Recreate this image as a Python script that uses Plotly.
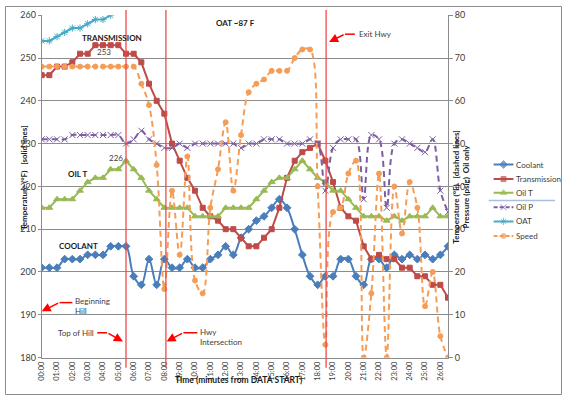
import plotly.graph_objects as go

times = ["00:00","00:30","01:00","01:30","02:00","02:30","03:00","03:30","04:00","04:30",
         "05:00","05:30","06:00","06:30","07:00","07:30","08:00","08:30","09:00","09:30",
         "10:00","10:30","11:00","11:30","12:00","12:30","13:00","13:30","14:00","14:30",
         "15:00","15:30","16:00","16:30","17:00","17:30","18:00","18:30","19:00","19:30",
         "20:00","20:30","21:00","21:30","22:00","22:30","23:00","23:30","24:00","24:30",
         "25:00","25:30","26:00","26:30"]
tick_labels = ["00:00","01:00","02:00","03:00","04:00","05:00","06:00","07:00","08:00","09:00",
               "10:00","11:00","12:00","13:00","14:00","15:00","16:00","17:00","18:00","19:00",
               "20:00","21:00","22:00","23:00","24:00","25:00","26:00"]

coolant = [201,201,201,203,203,203,204,204,204,206,206,206,199,197,203,197,203,201,201,203,
           201,201,203,204,206,204,208,210,212,213,215,217,215,210,204,199,197,199,199,203,
           203,199,197,203,203,201,204,203,204,203,204,203,204,206]
transmission = [246,246,248,248,249,251,251,253,253,253,253,251,251,249,244,240,237,230,226,222,
                219,215,213,212,210,210,208,206,206,208,210,215,222,226,228,229,230,226,221,215,
                213,212,206,203,204,203,203,201,201,199,199,197,197,194]
oil_t = [215,215,217,217,217,219,221,222,222,224,224,226,224,222,219,217,215,215,215,215,
         213,213,213,213,215,215,215,215,217,219,221,222,222,224,226,224,222,221,219,219,
         217,215,213,213,213,212,213,212,213,213,213,215,213,213]
oil_p = [51,51,51,51,52,52,52,52,52,52,52,50,51,53,51,50,49,49,50,49,
         50,50,50,50,50,50,49,50,50,51,51,51,50,50,50,51,50,39,49,51,
         51,51,37,52,51,35,50,51,50,49,48,51,39,34]
oat = [74,74,75,76,77,77,78,79,79,80] + [None]*44
speed = [68,68,68,68,68,68,68,68,68,68,68,68,68,64,59,45,16,39,24,47,
         18,15,35,44,55,39,52,62,64,65,67,67,67,70,72,72,40,3,34,35,
         43,46,0,15,43,0,40,29,41,35,12,20,5,0]

series_names = ["Coolant", "Transmission", "Oil T", "Oil P", "OAT", "Speed"]
event_idx = [11, 16.2, 37.1]

W, H = 562, 400
X0, X1, Y0, Y1 = 37, 447, 9.5, 361.5   # plot area in pixels

def px(x):
    return x / W

def py(y):
    return (H - y) / H

font_family = "Lato, 'Liberation Sans', Arial, sans-serif"
txt_col = "#404040"
dark = "#1a1a1a"
grid_col = "#8c8c8c"
red = "#FF0000"

styles = {
    "Coolant":      dict(color="#4A7EBB", symbol="diamond", axis="y", dash=None, shape="spline", size=6),
    "Transmission": dict(color="#BE4B48", symbol="square", axis="y", dash=None, shape="linear", size=5),
    "Oil T":        dict(color="#98B954", symbol="triangle-up", axis="y", dash=None, shape="linear", size=6),
    "Oil P":        dict(color="#7D5FA0", symbol="x-thin-open", axis="y2", dash="6px,4px", shape="spline", size=6),
    "OAT":          dict(color="#46AAC5", symbol="asterisk-open", axis="y2", dash=None, shape="linear", size=6),
    "Speed":        dict(color="#F59D56", symbol="circle", axis="y2", dash="6px,4px", shape="spline", size=5),
}
values = {"Coolant": coolant, "Transmission": transmission, "Oil T": oil_t,
          "Oil P": oil_p, "OAT": oat, "Speed": speed}

fig = go.Figure()
for name in series_names:
    s = styles[name]
    fig.add_trace(go.Scatter(
        x=times, y=values[name], name=name, yaxis=s["axis"], mode="lines+markers",
        line=dict(color=s["color"], width=2, dash=s["dash"], shape=s["shape"], smoothing=1),
        marker=dict(symbol=s["symbol"], size=s["size"], color=s["color"],
                    line=dict(color=s["color"], width=1)),
        connectgaps=False, showlegend=False))

# manual legend (own small axes in the right margin)
legend_y = [163, 178, 192, 207, 221.5, 236.5]
for name, ly in zip(series_names, legend_y):
    s = styles[name]
    fig.add_trace(go.Scatter(
        x=[493, 503, 513], y=[ly, ly, ly], xaxis="x3", yaxis="y3", mode="lines+markers",
        line=dict(color=s["color"], width=2, dash="4px,2px" if s["dash"] else None),
        marker=dict(symbol=s["symbol"], size=[0, s["size"], 0], color=s["color"],
                    line=dict(color=s["color"], width=1)),
        showlegend=False, hoverinfo="skip"))

shapes = []
for xi in event_idx:
    shapes.append(dict(type="line", xref="x", yref="paper", x0=xi, x1=xi,
                       y0=py(372), y1=py(4), line=dict(color="rgba(240,70,70,0.85)", width=1.5)))

segs = [((68, 305), (55, 305)), ((93, 336), (103, 336)),
        ((194, 336), (180, 336)), ((353, 29), (343, 29))]
for (x0, y0), (x1, y1) in segs:
    shapes.append(dict(type="line", xref="paper", yref="paper",
                       x0=px(x0), y0=py(y0), x1=px(x1), y1=py(y1),
                       line=dict(color=red, width=1.5)))
shapes.append(dict(type="line", xref="paper", yref="paper", x0=px(488), x1=px(555),
                   y0=py(200), y1=py(200), line=dict(color="#A7C0DE", width=1.5)))
shapes.append(dict(type="rect", xref="paper", yref="paper", x0=px(0.5), x1=px(561.5),
                   y0=py(399.5), y1=py(0.5), line=dict(color="#8c8c8c", width=1)))

ann = []
arrows = [((55, 305), (37, 314)), ((103, 336), (119, 345)),
          ((180, 336), (163, 345)), ((343, 29), (327, 37))]
for (tx, ty), (hx, hy) in arrows:
    ann.append(dict(xref="paper", yref="paper", x=px(hx), y=py(hy), ax=tx - hx, ay=ty - hy,
                    text="", showarrow=True, arrowhead=2, arrowsize=1.2, arrowwidth=1.5,
                    arrowcolor=red))

def label(text, x, y, size=8.5, bold=False, anchor="left", color=txt_col, yanchor="middle"):
    ann.append(dict(xref="paper", yref="paper", x=px(x), y=py(y),
                    text=f"<b>{text}</b>" if bold else text, align="left",
                    showarrow=False, xanchor=anchor, yanchor=yanchor,
                    font=dict(size=size, color=color, family=font_family)))

label("Beginning<br>Hill", 69, 308, size=8)
label("Top of Hill", 51, 336, size=8)
label("Hwy<br>Intersection", 195, 340.5, size=8)
label("Exit Hwy", 355, 29, size=8)
label("TRANSMISSION", 108, 33, size=8, bold=True, anchor="center", color=dark)
label("253", 100, 47, size=8, anchor="center")
label("226", 112, 156, size=8, anchor="center")
label("OIL T", 73, 173, size=8, bold=True, anchor="center", color=dark)
label("COOLANT", 74, 247, size=8, bold=True, anchor="center", color=dark)
label("OAT ~87 F", 233, 17, size=8, bold=True, anchor="center", color=dark)
for name, ly in zip(series_names, legend_y):
    label(name, 514, ly, size=8)

ann.append(dict(xref="paper", yref="paper", x=px(12), y=py(176), textangle=-90,
                text="<b>Temperature (°F)   [solid lines]</b>", showarrow=False,
                font=dict(size=8, color=dark, family=font_family)))
ann.append(dict(xref="paper", yref="paper", x=px(472), y=py(186), textangle=-90,
                text="<b>Temperature (°F)   [dashed lines]<br>Pressure (psig)  Oil only</b>",
                showarrow=False, font=dict(size=8, color=dark, family=font_family)))
ann.append(dict(xref="paper", yref="paper", x=px(236), y=py(392),
                text="<b>Time (minutes from DATA START)</b>", showarrow=False,
                font=dict(size=8.5, color=dark, family=font_family)))

fig.update_layout(
    width=W, height=H, margin=dict(l=0, r=0, t=0, b=0),
    paper_bgcolor="white", plot_bgcolor="white",
    font=dict(family=font_family, size=9, color=txt_col),
    showlegend=False,
    xaxis=dict(domain=[px(X0), px(X1)], type="category", categoryorder="array",
               categoryarray=times, range=[0, 53], tickvals=tick_labels, ticktext=tick_labels,
               tickangle=-90, tickfont=dict(size=7.5, color=txt_col),
               showgrid=False, showline=True, linecolor=grid_col, ticks="",
               zeroline=False),
    yaxis=dict(domain=[py(Y1), py(Y0)], range=[180, 260], dtick=10, showgrid=True,
               gridcolor=grid_col, gridwidth=1,
               showline=True, linecolor=grid_col, ticks="outside", ticklen=3, tickcolor=grid_col,
               tickfont=dict(size=9, color=txt_col), zeroline=False),
    yaxis2=dict(range=[0, 80], dtick=10, overlaying="y", side="right", showgrid=False,
                showline=True, linecolor=grid_col, ticks="outside", ticklen=4, tickcolor=grid_col,
                tickfont=dict(size=9, color=txt_col), zeroline=False),
    xaxis3=dict(domain=[px(488), px(520)], range=[488, 520], visible=False, fixedrange=True),
    yaxis3=dict(domain=[py(250), py(150)], range=[250, 150], visible=False, fixedrange=True,
                anchor="x3"),
    shapes=shapes, annotations=ann,
)
for tr in fig.data[6:]:
    tr.update(xaxis="x3", yaxis="y3")

fig.write_html("out.html")
